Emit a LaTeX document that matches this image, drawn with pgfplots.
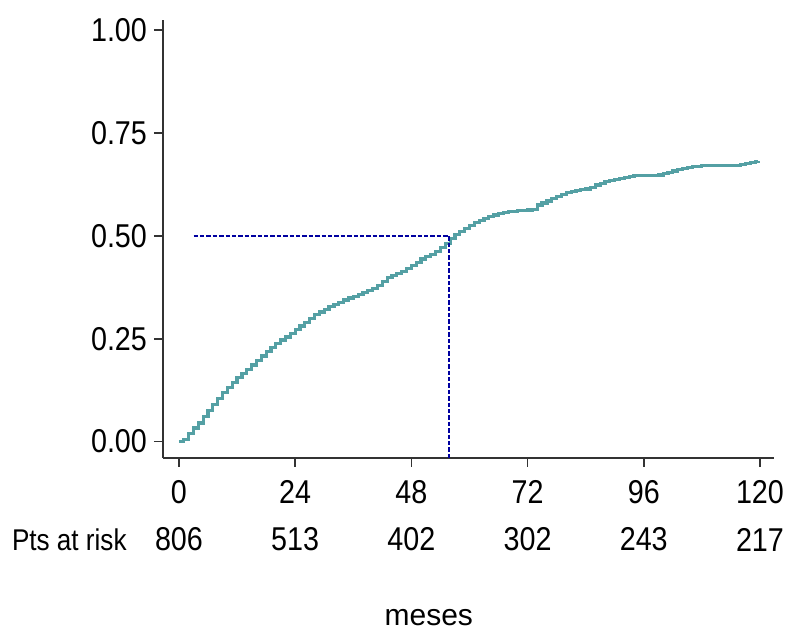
\documentclass[border=0pt]{standalone}
\usepackage{pgfplots}
\pgfplotsset{compat=1.18}
\usepackage{fontspec}
\setmainfont{Liberation Sans}[FakeStretch=0.87]
\newfontfamily\regfont{Liberation Sans}
\definecolor{kmteal}{RGB}{84,160,164}
\definecolor{dashblue}{RGB}{0,0,160}
\begin{document}
\begin{tikzpicture}
% page = 793x630 px, 1 px = 0.5pt; axis corner at px (163,458)
\path[use as bounding box] (-81.5pt,-86pt) rectangle (315pt,229pt);
\begin{axis}[
  scale only axis, width=305.5pt, height=219pt,
  xmin=-3.3, xmax=122.9, ymin=-0.04, ymax=1.025,
  axis x line=bottom, axis y line=left,
  axis line style={-, line width=0.9pt, black!80},
  tick align=outside, tick style={line width=0.8pt, black!80},
  major tick length=4.5pt,
  xtick={0,24,48,72,96,120},
  ytick={0,0.25,0.5,0.75,1},
  yticklabel style={/pgf/number format/.cd, fixed, fixed zerofill, precision=2},
  xticklabel style={yshift=-3pt},
  /pgf/number format/assume math mode=true,
  tick label style={font=\fontsize{16.5}{18}\selectfont},
  clip=false,
]
\addplot[const plot, mark=none, kmteal, line width=1.6pt] coordinates {
(0,0) (1,0.005) (2,0.02) (3,0.033) (4,0.045) (5,0.06) (6,0.075) (7,0.09)
(8,0.105) (9,0.12) (10,0.132) (11,0.143) (12,0.155) (13,0.165) (14,0.176)
(15,0.186) (16,0.197) (17,0.208) (18,0.219) (19,0.229) (20,0.238) (21,0.247)
(22,0.254) (23,0.263) (24,0.272) (25,0.281) (26,0.29) (27,0.299) (28,0.308)
(29,0.315) (30,0.322) (31,0.328) (32,0.334) (33,0.339) (34,0.344) (35,0.349)
(36,0.353) (37,0.358) (38,0.363) (39,0.368) (40,0.372) (41,0.38) (42,0.39)
(43,0.398) (44,0.404) (45,0.409) (46,0.414) (47,0.42) (48,0.428) (49,0.436)
(50,0.444) (51,0.45) (52,0.455) (53,0.462) (54,0.472) (55,0.482) (56,0.494)
(57,0.503) (58,0.51) (59,0.518) (60,0.526) (61,0.532) (62,0.538) (63,0.543)
(64,0.548) (65,0.551) (66,0.554) (67,0.557) (68,0.559) (69,0.56) (70,0.561)
(71,0.562) (72,0.563) (73,0.565) (74,0.575) (75,0.58) (76,0.585) (77,0.59)
(78,0.596) (79,0.601) (80,0.605) (81,0.608) (82,0.61) (83,0.612) (84,0.614)
(85,0.618) (86,0.624) (87,0.628) (88,0.632) (89,0.635) (90,0.637) (91,0.639)
(92,0.642) (93,0.644) (94,0.646) (95,0.646) (96,0.646) (97,0.646) (98,0.647)
(99,0.648) (100,0.652) (101,0.655) (102,0.658) (103,0.661) (104,0.664)
(105,0.666) (106,0.668) (107,0.669) (108,0.671) (109,0.672) (110,0.672)
(111,0.672) (112,0.672) (113,0.672) (114,0.672) (115,0.672) (116,0.673)
(117,0.677) (118,0.679) (119,0.681) (119.6,0.682)
};
% median lines
\addplot[dashblue, line width=0.7pt, dash pattern=on 2.2pt off 1pt] coordinates {(3,0.5) (55.8,0.5) (55.8,-0.04)};
% numbers at risk
\node[anchor=east, font=\fontsize{15}{18}\selectfont, inner sep=0pt] at (axis cs:0,0) [yshift=-49pt, xshift=-26pt] {Pts at risk};
\node[font=\fontsize{16.5}{18}\selectfont] at (axis cs:0,0) [yshift=-49pt] {806};
\node[font=\fontsize{16.5}{18}\selectfont] at (axis cs:24,0) [yshift=-49pt] {513};
\node[font=\fontsize{16.5}{18}\selectfont] at (axis cs:48,0) [yshift=-49pt] {402};
\node[font=\fontsize{16.5}{18}\selectfont] at (axis cs:72,0) [yshift=-49pt] {302};
\node[font=\fontsize{16.5}{18}\selectfont] at (axis cs:96,0) [yshift=-49pt] {243};
\node[font=\fontsize{16.5}{18}\selectfont] at (axis cs:120,0) [yshift=-49pt] {217};
\node[font=\regfont\fontsize{15}{18}\selectfont, inner sep=0pt] at (axis cs:51.6,0) [yshift=-88pt] {meses};
\end{axis}
\end{tikzpicture}
\end{document}
